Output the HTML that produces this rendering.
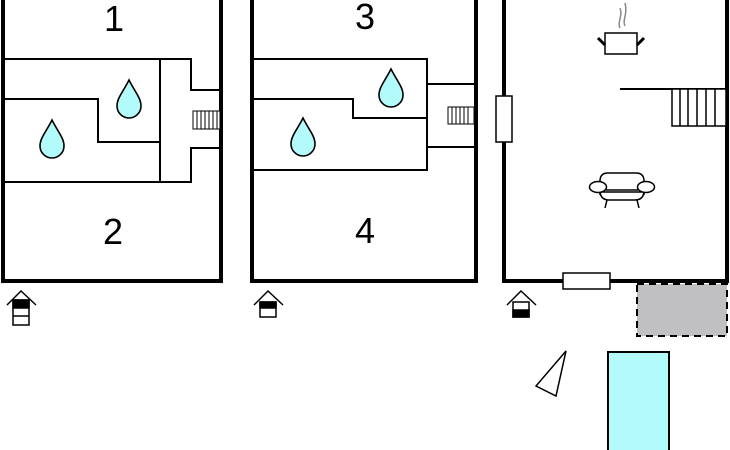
<!DOCTYPE html>
<html><head><style>body{margin:0;background:#fff}svg{display:block}</style></head><body>
<svg width="730" height="450" viewBox="0 0 730 450" xmlns="http://www.w3.org/2000/svg" font-family="Liberation Sans, sans-serif">
<defs>
<path id="drop" d="M0,-20 C6,-8 12,-2 12,6 A12,12 0 0 1 -12,6 C-12,-2 -6,-8 0,-20Z" fill="#b3fbfb" stroke="#000" stroke-width="1.6"/>
</defs>
<g fill="none" stroke="#000" stroke-width="4">
<path d="M3,0 V281 H221 V0"/>
<path d="M252,0 V281 H476 V0"/>
<path d="M504,0 V281 H727 V0"/>
</g>
<g fill="none" stroke="#000" stroke-width="2">
<path d="M3,59 H191 V90 H220"/>
<path d="M220,148 H191 V182 H3"/>
<path d="M160,59 V182"/>
<path d="M3,99 H98 V142 H160"/>
<path d="M252,59 H427 V170 H252"/>
<path d="M427,84 H475 M427,147 H475"/>
<path d="M252,99 H353 V118 H427"/>
<path d="M620,89 H726"/>
</g>
<g fill="#fff" stroke="#000" stroke-width="1">
<rect x="193" y="111" width="27" height="18"/>
<path d="M197,111V129M201,111V129M205,111V129M209,111V129M213,111V129M217,111V129"/>
<rect x="448" y="107" width="26" height="17"/>
<path d="M452,107V124M456,107V124M460,107V124M464,107V124M468,107V124"/>
</g>
<g fill="#fff" stroke="#000" stroke-width="1.5">
<rect x="672" y="89" width="54" height="37"/>
<path d="M680,89V126M688,89V126M697,89V126M706,89V126M715,89V126"/>
</g>
<use href="#drop" x="129" y="100"/>
<use href="#drop" x="52" y="140"/>
<use href="#drop" x="391" y="89"/>
<use href="#drop" x="303" y="138"/>
<g font-size="36" text-anchor="middle" fill="#000">
<text x="114" y="31">1</text><text x="113" y="244">2</text>
<text x="365" y="29">3</text><text x="365" y="243">4</text>
</g>
<rect x="496" y="96" width="16" height="46" fill="#fff" stroke="#000" stroke-width="1.5"/>
<rect x="563" y="273" width="47" height="16" fill="#fff" stroke="#000" stroke-width="1.5"/>
<g stroke="#000" fill="none">
<rect x="605" y="33" width="32" height="21" fill="#fff" stroke-width="1.5"/>
<path d="M598,38 L605,45 M644,38 L637,45" stroke-width="3"/>
<path d="M620,28 C617,22 623,16 620,8 M625,26 C622,20 628,14 625,3" stroke="#888" stroke-width="1.5"/>
</g>
<g stroke="#000" stroke-width="1.5" fill="#fff">
<path d="M600,195 V181 Q600,173 608,173 H636 Q644,173 644,181 V195"/>
<path d="M600,192 Q601,200 609,200 H635 Q643,200 644,192Z"/>
<ellipse cx="598" cy="187" rx="8.5" ry="5.5"/>
<ellipse cx="646" cy="187" rx="8.5" ry="5.5"/>
<path d="M606,190 H638"/>
<path d="M607,200 L605,208 M637,200 L639,208" fill="none"/>
</g>
<rect x="637" y="284" width="90" height="52" fill="#c0c0c2" stroke="#000" stroke-width="2" stroke-dasharray="7,5"/>
<rect x="608" y="352" width="61" height="100" fill="#b3fbfb" stroke="#000" stroke-width="2"/>
<path d="M566,351 L536,386 L556,396 Z" fill="#fff" stroke="#000" stroke-width="1.5"/>
<g stroke="#000" stroke-width="1.5" fill="#fff">
<path d="M7,305 L21,291 L36,305" fill="none"/>
<rect x="13" y="300" width="16" height="25"/>
<rect x="13" y="300" width="16" height="8" fill="#000"/>
<path d="M13,316 H29"/>
<path d="M254,305 L268,291 L283,305" fill="none"/>
<rect x="260" y="302" width="16" height="15"/>
<rect x="260" y="302" width="16" height="6" fill="#000"/>
<path d="M507,305 L521,291 L536,305" fill="none"/>
<rect x="513" y="302" width="16" height="15"/>
<rect x="513" y="310" width="16" height="7" fill="#000"/>
</g>
</svg>
</body></html>
